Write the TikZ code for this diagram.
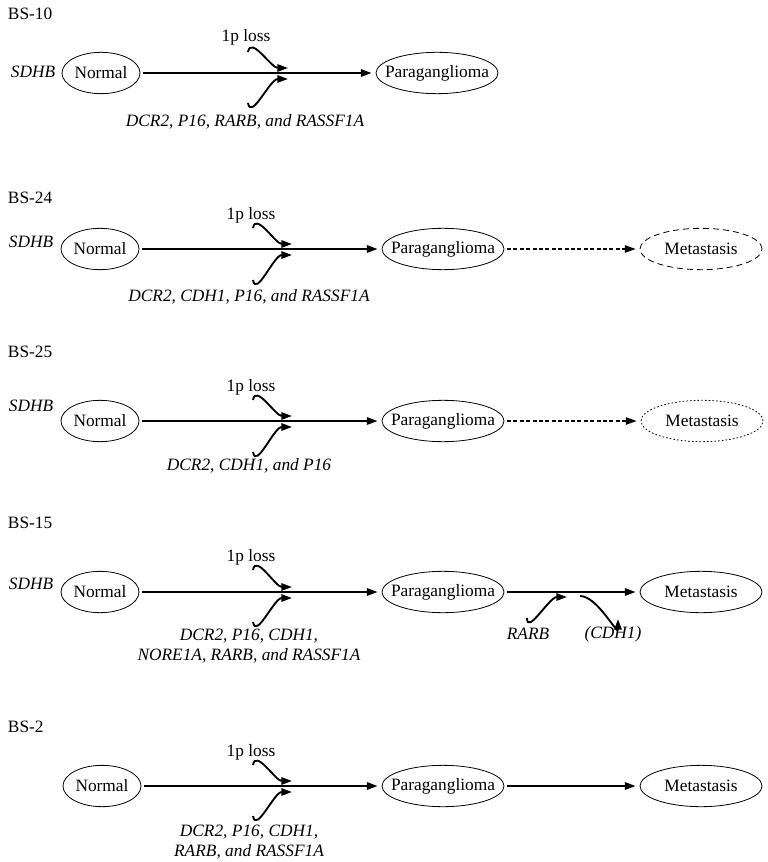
\documentclass[tikz,border=0pt]{standalone}
\usepackage{fontspec}
\setmainfont{Liberation Serif}
\usetikzlibrary{arrows.meta,shapes.geometric}

\tikzset{every picture/.style={line width=0.75pt}}
\tikzset{
  stage/.style={draw, ellipse, line width=0.6pt, inner sep=-20pt, minimum width=58.5pt, minimum height=31pt},
  wide/.style={minimum width=91.5pt},
  gene/.style={font=\fontsize{13}{14.5}\selectfont\itshape, align=center},
  mainarrow/.style={line width=1.4pt, -{Triangle[length=8pt,width=5.5pt]}, shorten <=2pt, shorten >=3pt},
  bendarrow/.style={line width=1.4pt, -{Triangle[length=8pt,width=5.5pt]}},
  dasharrow/.style={line width=0.9pt, dash pattern=on 3pt off 1.8pt, -{Triangle[length=8pt,width=5.5pt]}, shorten <=2pt, shorten >=3pt},
}

\begin{document}
\begin{tikzpicture}[x=0.75pt,y=0.75pt,yscale=-1,xscale=1,font=\fontsize{13}{14.5}\selectfont]
\useasboundingbox (0,0) rectangle (767,862);

% BS-10
\draw (3,14) node [anchor=west] (t10) {BS-10};
\draw (33,72) node [gene] (sdhb10) {SDHB};
\draw (101,73) node [stage] (norm10) {Normal};
\draw (437,73) node [stage,wide] (para10) {Paraganglioma};
\draw (246,37) node (loss10) {1p loss};
\draw (245,122) node [gene] (meth10) {DCR2, P16, RARB, and RASSF1A};
\coordinate (a10) at (248,52);
\coordinate (b10) at (248,103);
\coordinate (up10) at (288,68);
\coordinate (lo10) at (288,79);
\draw [mainarrow] (norm10) -- (para10);
\draw [bendarrow] (a10) to [out=-80,in=180] (up10);
\draw [bendarrow] (b10) to [out=80,in=180] (lo10);

% BS-24
\draw (3,198) node [anchor=west] (t24) {BS-24};
\draw (31,242) node [gene] (sdhb24) {SDHB};
\draw (100,249) node [stage] (norm24) {Normal};
\draw (443,249) node [stage,wide] (para24) {Paraganglioma};
\draw (701,249) node [stage,wide,dash pattern=on 4.5pt off 3pt] (meta24) {Metastasis};
\draw (251,215) node (loss24) {1p loss};
\draw (249,297) node [gene] (meth24) {DCR2, CDH1, P16, and RASSF1A};
\coordinate (a24) at (253,228);
\coordinate (b24) at (253,280);
\coordinate (up24) at (292,244);
\coordinate (lo24) at (292,255);
\draw [mainarrow] (norm24) -- (para24);
\draw [bendarrow] (a24) to [out=-80,in=180] (up24);
\draw [bendarrow] (b24) to [out=80,in=180] (lo24);
\draw [dasharrow] (para24) -- (meta24);

% BS-25
\draw (3,352) node [anchor=west] (t25) {BS-25};
\draw (31,406) node [gene] (sdhb25) {SDHB};
\draw (100,421) node [stage] (norm25) {Normal};
\draw (443,421) node [stage,wide] (para25) {Paraganglioma};
\draw (702,421) node [stage,wide,dash pattern=on 1.2pt off 1.6pt] (meta25) {Metastasis};
\draw (251,387) node (loss25) {1p loss};
\draw (249,466) node [gene] (meth25) {DCR2, CDH1, and P16};
\coordinate (a25) at (253,400);
\coordinate (b25) at (253,452);
\coordinate (up25) at (292,416);
\coordinate (lo25) at (292,427);
\draw [mainarrow] (norm25) -- (para25);
\draw [bendarrow] (a25) to [out=-80,in=180] (up25);
\draw [bendarrow] (b25) to [out=80,in=180] (lo25);
\draw [dasharrow] (para25) -- (meta25);

% BS-15
\draw (3,523) node [anchor=west] (t15) {BS-15};
\draw (31,584) node [gene] (sdhb15) {SDHB};
\draw (100,592) node [stage] (norm15) {Normal};
\draw (443,592) node [stage,wide] (para15) {Paraganglioma};
\draw (701,592) node [stage,wide] (meta15) {Metastasis};
\draw (251,557) node (loss15) {1p loss};
\draw (249,646) node [gene] (meth15) {DCR2, P16, CDH1,\\NORE1A, RARB, and RASSF1A};
\draw (528,634) node [gene] (rarb15) {RARB};
\draw (613,634) node [gene] (cdh15) {(CDH1)};
\coordinate (c15) at (527,618);
\coordinate (in15) at (567,597);
\coordinate (out15) at (580,596);
\coordinate (d15) at (618,619);
\coordinate (a15) at (253,570);
\coordinate (b15) at (253,622);
\coordinate (up15) at (292,587);
\coordinate (lo15) at (292,598);
\draw [mainarrow] (norm15) -- (para15);
\draw [bendarrow] (a15) to [out=-80,in=180] (up15);
\draw [bendarrow] (b15) to [out=80,in=180] (lo15);
\draw [mainarrow] (para15) -- (meta15);
\draw [bendarrow] (c15) to [out=90,in=180] (in15);
\draw [bendarrow] (out15) to [out=0,in=90] (d15);

% BS-2
\draw (3,727) node [anchor=west] (t2) {BS-2};
\draw (102,786) node [stage] (norm2) {Normal};
\draw (443,786) node [stage,wide] (para2) {Paraganglioma};
\draw (701,786) node [stage,wide] (meta2) {Metastasis};
\draw (251,752) node (loss2) {1p loss};
\draw (249,842) node [gene] (meth2) {DCR2, P16, CDH1,\\RARB, and RASSF1A};
\coordinate (a2) at (253,765);
\coordinate (b2) at (253,816);
\coordinate (up2) at (292,781);
\coordinate (lo2) at (292,792);
\draw [mainarrow] (norm2) -- (para2);
\draw [bendarrow] (a2) to [out=-80,in=180] (up2);
\draw [bendarrow] (b2) to [out=80,in=180] (lo2);
\draw [mainarrow] (para2) -- (meta2);

\end{tikzpicture}
\end{document}
